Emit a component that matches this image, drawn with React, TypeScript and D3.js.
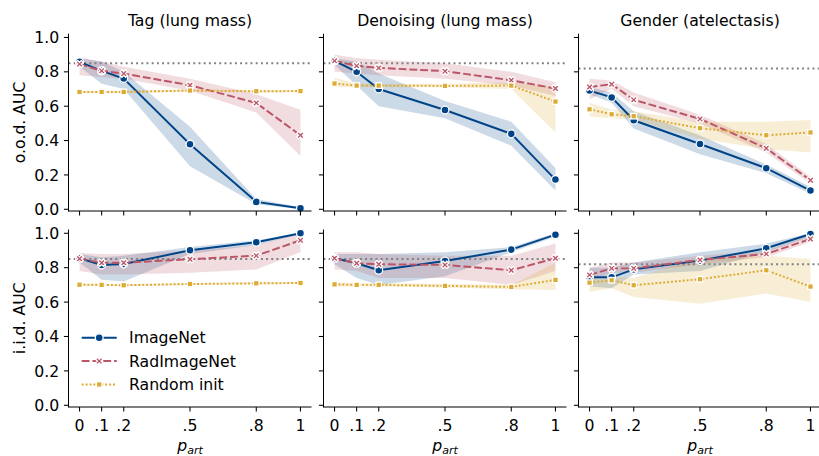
import React, { useEffect, useRef } from 'react';
import * as d3 from 'd3';

const pArt = [0, 0.1, 0.2, 0.5, 0.8, 1];
const pArtLabels = ['0', '.1', '.2', '.5', '.8', '1'];
const yTicks = [0, 0.2, 0.4, 0.6, 0.8, 1.0];
const models = ['ImageNet', 'RadImageNet', 'Random init'];
const tasks = ['Tag (lung mass)', 'Denoising (lung mass)', 'Gender (atelectasis)'];
const rowLabels = ['o.o.d. AUC', 'i.i.d. AUC'];
const baselines = [0.85, 0.85, 0.82];

// o.o.d. / Tag
const oodTagImageNet = [0.858, 0.806, 0.761, 0.379, 0.043, 0.006];
const oodTagImageNetLo = [0.83, 0.73, 0.7, 0.25, 0.03, 0.0];
const oodTagImageNetHi = [0.88, 0.86, 0.8, 0.48, 0.06, 0.012];
const oodTagRad = [0.845, 0.806, 0.79, 0.722, 0.619, 0.431];
const oodTagRadLo = [0.78, 0.77, 0.76, 0.69, 0.563, 0.31];
const oodTagRadHi = [0.88, 0.86, 0.83, 0.76, 0.67, 0.58];
const oodTagRand = [0.683, 0.683, 0.683, 0.691, 0.687, 0.688];
const oodTagRandLo = [0.675, 0.676, 0.676, 0.684, 0.68, 0.681];
const oodTagRandHi = [0.69, 0.69, 0.69, 0.698, 0.694, 0.695];

// o.o.d. / Denoising
const oodDenImageNet = [0.864, 0.8, 0.7, 0.578, 0.439, 0.173];
const oodDenImageNetLo = [0.84, 0.72, 0.6, 0.53, 0.37, 0.11];
const oodDenImageNetHi = [0.88, 0.86, 0.79, 0.63, 0.51, 0.24];
const oodDenRad = [0.864, 0.835, 0.823, 0.804, 0.751, 0.703];
const oodDenRadLo = [0.8, 0.79, 0.78, 0.76, 0.72, 0.66];
const oodDenRadHi = [0.9, 0.88, 0.87, 0.85, 0.8, 0.74];
const oodDenRand = [0.732, 0.72, 0.72, 0.718, 0.72, 0.627];
const oodDenRandLo = [0.71, 0.71, 0.71, 0.71, 0.7, 0.447];
const oodDenRandHi = [0.765, 0.73, 0.73, 0.73, 0.74, 0.71];

// o.o.d. / Gender
const oodGenImageNet = [0.691, 0.651, 0.518, 0.38, 0.239, 0.109];
const oodGenImageNetLo = [0.67, 0.62, 0.47, 0.32, 0.21, 0.09];
const oodGenImageNetHi = [0.71, 0.68, 0.57, 0.43, 0.26, 0.13];
const oodGenRad = [0.712, 0.728, 0.637, 0.526, 0.355, 0.169];
const oodGenRadLo = [0.64, 0.7, 0.6, 0.5, 0.33, 0.15];
const oodGenRadHi = [0.76, 0.75, 0.68, 0.55, 0.38, 0.19];
const oodGenRand = [0.582, 0.553, 0.542, 0.472, 0.431, 0.447];
const oodGenRandLo = [0.54, 0.53, 0.52, 0.41, 0.35, 0.33];
const oodGenRandHi = [0.62, 0.58, 0.57, 0.51, 0.51, 0.52];

// i.i.d. / Tag
const iidTagImageNet = [0.855, 0.816, 0.821, 0.901, 0.948, 1.0];
const iidTagImageNetLo = [0.83, 0.73, 0.72, 0.88, 0.93, 0.995];
const iidTagImageNetHi = [0.88, 0.86, 0.87, 0.92, 0.96, 1.0];
const iidTagRad = [0.852, 0.829, 0.829, 0.849, 0.87, 0.959];
const iidTagRadLo = [0.78, 0.76, 0.76, 0.77, 0.79, 0.89];
const iidTagRadHi = [0.885, 0.88, 0.88, 0.9, 0.93, 1.0];
const iidTagRand = [0.701, 0.7, 0.698, 0.705, 0.709, 0.711];
const iidTagRandLo = [0.695, 0.694, 0.692, 0.699, 0.703, 0.705];
const iidTagRandHi = [0.707, 0.706, 0.704, 0.711, 0.715, 0.717];

// i.i.d. / Denoising
const iidDenImageNet = [0.855, 0.826, 0.785, 0.839, 0.905, 0.992];
const iidDenImageNetLo = [0.82, 0.74, 0.7, 0.75, 0.89, 0.98];
const iidDenImageNetHi = [0.88, 0.88, 0.88, 0.89, 0.92, 1.0];
const iidDenRad = [0.855, 0.826, 0.82, 0.816, 0.785, 0.855];
const iidDenRadLo = [0.79, 0.78, 0.74, 0.74, 0.7, 0.78];
const iidDenRadHi = [0.89, 0.89, 0.88, 0.87, 0.87, 0.94];
const iidDenRand = [0.703, 0.7, 0.7, 0.694, 0.688, 0.729];
const iidDenRandLo = [0.69, 0.69, 0.69, 0.685, 0.675, 0.67];
const iidDenRandHi = [0.715, 0.71, 0.71, 0.705, 0.7, 0.83];

// i.i.d. / Gender
const iidGenImageNet = [0.744, 0.744, 0.79, 0.841, 0.913, 0.996];
const iidGenImageNetLo = [0.69, 0.68, 0.76, 0.78, 0.89, 0.98];
const iidGenImageNetHi = [0.8, 0.8, 0.83, 0.89, 0.94, 1.0];
const iidGenRad = [0.758, 0.796, 0.796, 0.845, 0.88, 0.967];
const iidGenRadLo = [0.72, 0.77, 0.77, 0.82, 0.86, 0.95];
const iidGenRadHi = [0.8, 0.83, 0.83, 0.87, 0.9, 0.99];
const iidGenRand = [0.713, 0.727, 0.698, 0.733, 0.785, 0.69];
const iidGenRandLo = [0.66, 0.68, 0.63, 0.59, 0.65, 0.6];
const iidGenRandHi = [0.74, 0.75, 0.74, 0.86, 0.87, 0.85];

const grid = [
  [
    [[oodTagImageNet, oodTagImageNetLo, oodTagImageNetHi], [oodTagRad, oodTagRadLo, oodTagRadHi], [oodTagRand, oodTagRandLo, oodTagRandHi]],
    [[oodDenImageNet, oodDenImageNetLo, oodDenImageNetHi], [oodDenRad, oodDenRadLo, oodDenRadHi], [oodDenRand, oodDenRandLo, oodDenRandHi]],
    [[oodGenImageNet, oodGenImageNetLo, oodGenImageNetHi], [oodGenRad, oodGenRadLo, oodGenRadHi], [oodGenRand, oodGenRandLo, oodGenRandHi]],
  ],
  [
    [[iidTagImageNet, iidTagImageNetLo, iidTagImageNetHi], [iidTagRad, iidTagRadLo, iidTagRadHi], [iidTagRand, iidTagRandLo, iidTagRandHi]],
    [[iidDenImageNet, iidDenImageNetLo, iidDenImageNetHi], [iidDenRad, iidDenRadLo, iidDenRadHi], [iidDenRand, iidDenRandLo, iidDenRandHi]],
    [[iidGenImageNet, iidGenImageNetLo, iidGenImageNetHi], [iidGenRad, iidGenRadLo, iidGenRadHi], [iidGenRand, iidGenRandLo, iidGenRandHi]],
  ],
];

const colors = ['#004488', '#BB5566', '#DDAA33'];
const dashes = [null, '7.85,2.94', '1.96,1.96'];
const font = 'DejaVu Sans, sans-serif';
const fs = 15.7;

// filled "X" marker (plus rotated 45deg)
const xMarkerPath = (ms: number) => {
  const pts = [[-1, -3], [1, -3], [1, -1], [3, -1], [3, 1], [1, 1], [1, 3], [-1, 3], [-1, 1], [-3, 1], [-3, -1], [-1, -1]];
  const c = Math.SQRT1_2;
  return 'M' + pts.map(([x, y]) => {
    const u = (x / 6) * ms, v = (y / 6) * ms;
    return [(u * c - v * c).toFixed(2), (u * c + v * c).toFixed(2)].join(',');
  }).join('L') + 'Z';
};

function drawMarker(g: any, m: number, cx: number, cy: number) {
  const ms = 7.85;
  const common = (s: any) => s.attr('fill', colors[m]).attr('stroke', '#fff').attr('stroke-width', 1.3);
  if (m === 0) {
    g.append('circle').attr('cx', cx).attr('cy', cy).attr('r', ms / 2).call(common);
  } else if (m === 1) {
    g.append('path').attr('d', xMarkerPath(ms)).attr('transform', `translate(${cx},${cy})`).call(common);
  } else {
    const s = ms * Math.SQRT1_2;
    g.append('rect').attr('x', cx - s / 2).attr('y', cy - s / 2).attr('width', s).attr('height', s).call(common);
  }
}

export default function App() {
  const ref = useRef<SVGSVGElement>(null);

  useEffect(() => {
    const svg = d3.select(ref.current);
    svg.selectAll('*').remove();

    const lefts = [68.5, 323.5, 578.5];
    const panelW = 243;
    const rows = [{ top: 33.7, bottom: 211 }, { top: 229.5, bottom: 407 }];

    rows.forEach((row, r) => {
      const y = d3.scaleLinear().domain([-0.01, 1.022]).range([row.bottom, row.top]);

      // row label
      svg.append('text')
        .attr('transform', `translate(25,${(row.top + row.bottom) / 2}) rotate(-90)`)
        .attr('text-anchor', 'middle')
        .style('font-family', font).style('font-size', fs + 'px')
        .text(rowLabels[r]);

      lefts.forEach((left, c) => {
        const x = d3.scaleLinear().domain([-0.05, 1.05]).range([left, left + panelW]);
        const g = svg.append('g');
        const data = grid[r][c];

        // confidence bands
        data.forEach(([mean, lo, hi], m) => {
          const area = d3.area<number>()
            .x((_, i) => x(pArt[i]))
            .y0((_, i) => y(lo[i]))
            .y1((_, i) => y(hi[i]));
          g.append('path').attr('d', area(mean)).attr('fill', colors[m]).attr('fill-opacity', 0.2);
        });

        // reference line
        g.append('line')
          .attr('x1', x(-0.05)).attr('x2', x(1.05))
          .attr('y1', y(baselines[c])).attr('y2', y(baselines[c]))
          .attr('stroke', '#808080').attr('stroke-width', 1.96).attr('stroke-dasharray', '1.96,3.24');

        // lines + markers
        data.forEach(([mean], m) => {
          const line = d3.line<number>().x((_, i) => x(pArt[i])).y((d) => y(d));
          g.append('path').attr('d', line(mean)).attr('fill', 'none')
            .attr('stroke', colors[m]).attr('stroke-width', 1.96)
            .attr('stroke-dasharray', dashes[m]);
          mean.forEach((v, i) => drawMarker(g, m, x(pArt[i]), y(v)));
        });

        // spines
        g.append('line').attr('x1', left).attr('x2', left).attr('y1', row.top).attr('y2', row.bottom + 0.5)
          .attr('stroke', '#000').attr('stroke-width', 1.05);
        g.append('line').attr('x1', left).attr('x2', left + panelW).attr('y1', row.bottom).attr('y2', row.bottom)
          .attr('stroke', '#000').attr('stroke-width', 1.05);

        // y ticks
        yTicks.forEach((t) => {
          g.append('line').attr('x1', left - 4.6).attr('x2', left).attr('y1', y(t)).attr('y2', y(t))
            .attr('stroke', '#000').attr('stroke-width', 1.05);
          if (c === 0) {
            g.append('text').attr('x', left - 9.2).attr('y', y(t)).attr('dy', '0.36em')
              .attr('text-anchor', 'end')
              .style('font-family', font).style('font-size', fs + 'px')
              .text(t.toFixed(1));
          }
        });

        // x ticks
        pArt.forEach((p, i) => {
          g.append('line').attr('x1', x(p)).attr('x2', x(p)).attr('y1', row.bottom).attr('y2', row.bottom + 4.6)
            .attr('stroke', '#000').attr('stroke-width', 1.05);
          if (r === 1) {
            g.append('text').attr('x', x(p)).attr('y', row.bottom + 23.5)
              .attr('text-anchor', 'middle')
              .style('font-family', font).style('font-size', fs + 'px')
              .text(pArtLabels[i]);
          }
        });

        const cx = left + panelW / 2;
        if (r === 0) {
          g.append('text').attr('x', cx).attr('y', 25.5).attr('text-anchor', 'middle')
            .style('font-family', font).style('font-size', fs + 'px')
            .text(tasks[c]);
        } else {
          const lbl = g.append('text').attr('x', cx).attr('y', 450.5).attr('text-anchor', 'middle')
            .style('font-family', font).style('font-style', 'italic');
          lbl.append('tspan').style('font-size', fs + 'px').text('p');
          lbl.append('tspan').attr('dy', 3.5).style('font-size', '11px').text('art');
        }
      });
    });

    // legend
    const lg = svg.append('g');
    models.forEach((name, m) => {
      const ly = 337.7 + m * 23.4;
      lg.append('line').attr('x1', 81.7).attr('x2', 116.7).attr('y1', ly).attr('y2', ly)
        .attr('stroke', colors[m]).attr('stroke-width', 1.96).attr('stroke-dasharray', dashes[m]);
      drawMarker(lg, m, 99.2, ly);
      lg.append('text').attr('x', 129).attr('y', ly).attr('dy', '0.36em')
        .style('font-family', font).style('font-size', fs + 'px')
        .text(name);
    });
  }, []);

  return (
    <svg ref={ref} width={819} height={456}
      style={{ position: 'absolute', left: 0, top: 0, background: '#fff' }} />
  );
}
